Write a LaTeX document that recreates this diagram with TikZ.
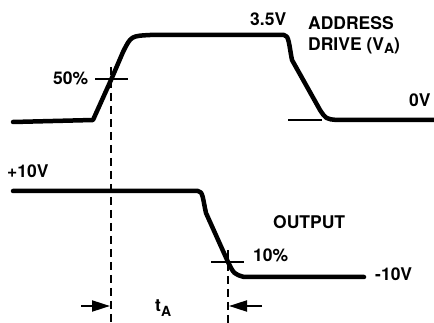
\documentclass[tikz,border=0pt]{standalone}
\usepackage{fontspec}
\setmainfont{TeX Gyre Heros}
\usetikzlibrary{arrows.meta}
\begin{document}
\begin{tikzpicture}[x=1pt,y=-1pt,
  wave/.style={line width=4.5pt,line join=round,line cap=round},
  tick/.style={line width=1.3pt},
  guide/.style={line width=1.8pt,dash pattern=on 8pt off 5pt},
  dimarrow/.style={line width=2pt,-{Triangle[length=18pt,width=11pt]}},
  lbl/.style={inner sep=0pt,anchor=base west,font=\bfseries\fontsize{17.5}{17.5}\selectfont}]
\useasboundingbox (0,0) rectangle (434,323);
% address drive waveform
\draw[wave] (13,122) -- (93,120) -- (111,80) -- (123,52) .. controls (131,36) .. (150,35)
  -- (284,35) .. controls (289,35) and (289,45) .. (292,60) -- (320,110)
  .. controls (326,119) .. (337,120) -- (436,120);
% output waveform
\draw[wave] (13,191) -- (198,191) .. controls (203,191) and (203,200) .. (206,213)
  -- (228,262) .. controls (234,274) .. (244,277) -- (364,277);
% marker ticks
\coordinate (c50) at (111,79);
\coordinate (c10) at (228,262);
\draw[tick] (95,79) -- (128,79);
\draw[tick] (288,120) -- (322,120);
\draw[tick] (211,262) -- (244,262);
% guides
\coordinate (g1top) at (111,67);
\coordinate (g1bot) at (111,323);
\coordinate (g2top) at (228,250);
\coordinate (g2bot) at (228,323);
\draw[guide] (g1top) -- (g1bot);
\draw[guide] (g2top) -- (g2bot);
% dimension arrows
\coordinate (a1s) at (81,306);
\coordinate (a1e) at (110,306);
\coordinate (a2s) at (262,306);
\coordinate (a2e) at (229,306);
\draw[dimarrow] (a1s) -- (a1e);
\draw[dimarrow] (a2s) -- (a2e);
% labels
\node[lbl] (v35) at (250,26) {3.5V};
\node[lbl] (addr) at (308,30) {ADDRESS};
\node[lbl] (drive) at (308,51) {DRIVE (V\raisebox{-3pt}{\fontsize{14}{14}\selectfont A})};
\node[lbl] (v0) at (409,107) {0V};
\node[lbl] (p50) at (53,85) {50\%};
\node[lbl] (p10v) at (7,178) {+10V};
\node[lbl] (out) at (273,229) {OUTPUT};
\node[lbl] (p10) at (253,262) {10\%};
\node[lbl] (m10v) at (375,280) {-10V};
\node[lbl] (ta) at (155,312) {t\raisebox{-5pt}{\fontsize{14}{14}\selectfont A}};
\end{tikzpicture}
\end{document}
